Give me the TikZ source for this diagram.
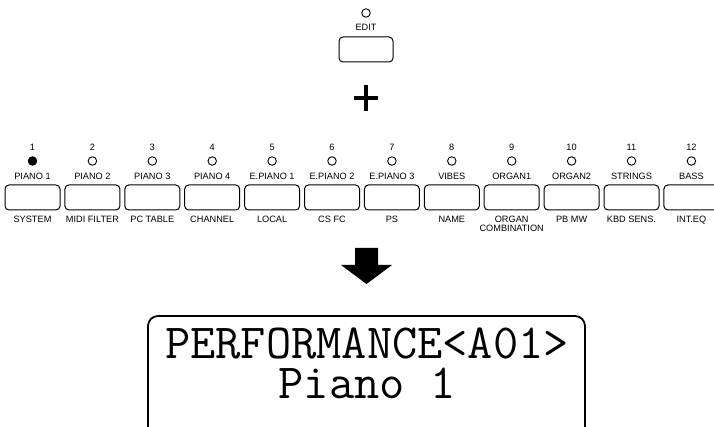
\documentclass[tikz,border=0pt]{standalone}
\usepackage{fontspec}
\setmainfont{Liberation Sans}
\begin{document}
\begin{tikzpicture}[x=1pt,y=-1pt,
  lbl/.style={font=\fontsize{9.2}{10}\selectfont, inner sep=0pt, align=center},
  led/.style={circle, draw, line width=0.9pt, minimum size=8.5pt, inner sep=0pt},
  ledon/.style={led, fill=black},
  btn/.style={draw, line width=1pt, rounded corners=4pt, minimum width=55pt, minimum height=25pt, inner sep=0pt},
  lcd/.style={font=\fontsize{49}{40}\selectfont\ttfamily, inner sep=0pt, anchor=base, text height=29pt, text depth=0pt}]
\useasboundingbox (0,0) rectangle (714,427);
\clip (0,0) rectangle (714,427);
% EDIT
\node[led] (eled) at (366,13) {};
\node[lbl] (etxt) at (366,27) {EDIT};
\node[btn, minimum width=54pt] (ebtn) at (366,49.5) {};
% plus
\coordinate (pc) at (366,98);
\draw[line width=3.6pt] ([xshift=-12pt]pc) -- ([xshift=12pt]pc);
\draw[line width=3.6pt] ([yshift=-13pt]pc) -- ([yshift=13pt]pc);
% buttons
\foreach \i/\n/\up/\lo [count=\k from 0] in {
  1/1/PIANO 1/SYSTEM, 2/2/PIANO 2/MIDI FILTER, 3/3/PIANO 3/PC TABLE, 4/4/PIANO 4/CHANNEL,
  5/5/E.PIANO 1/LOCAL, 6/6/E.PIANO 2/CS FC, 7/7/E.PIANO 3/PS, 8/8/VIBES/NAME,
  9/9/ORGAN1/{ORGAN\\[-0.5pt]COMBINATION}, 10/10/ORGAN2/PB MW, 11/11/STRINGS/KBD SENS., 12/12/BASS/INT.EQ} {
  \pgfmathsetmacro{\cx}{32.5+59.9*\k}
  \node[lbl] (num\i) at (\cx,147) {\n};
  \ifnum\i=1
    \node[ledon] (led\i) at (\cx,161) {};
  \else
    \node[led] (led\i) at (\cx,161) {};
  \fi
  \node[lbl] (up\i) at (\cx,176) {\up};
  \node[btn] (b\i) at (\cx,197.5) {};
  \node[lbl, anchor=north] (lo\i) at (\cx,215.5) {\lo};
}
% arrow
\fill (355,248) -- (378,248) -- (378,265) -- (392,265) -- (366.5,284) -- (341,265) -- (355,265) -- cycle;
% display
\draw[line width=1.8pt, rounded corners=10pt] (148,440) -- (148,316) -- (585,316) -- (585,440);
\node[lcd] (l1) at (367,358) {PERFORMANCE<A01>};
\node[lcd] (l2) at (367,398) {Piano 1};
\end{tikzpicture}
\end{document}
